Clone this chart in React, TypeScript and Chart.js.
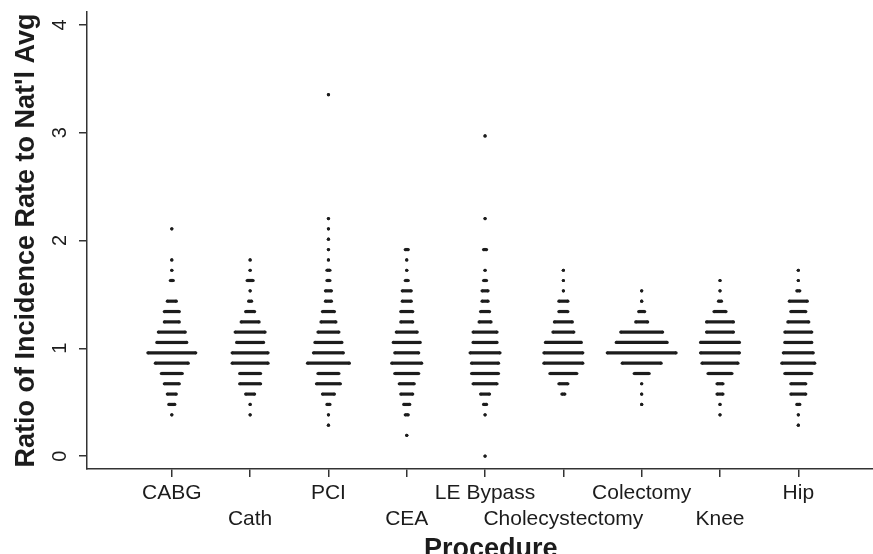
import React, { useEffect, useRef } from 'react';
import { Chart, registerables } from 'chart.js';

Chart.register(...registerables);

const procedures = ['CABG', 'Cath', 'PCI', 'CEA', 'LE Bypass', 'Cholecystectomy', 'Colectomy', 'Knee', 'Hip'];

const yTickValues = [0, 1, 2, 3, 4];

// Bin centres of the dot plot (ratio to national average), bins 0..35
const binValues = [
  0.0, 0.096, 0.192, 0.287, 0.383, 0.479, 0.575, 0.671, 0.766, 0.862,
  0.958, 1.054, 1.15, 1.245, 1.341, 1.437, 1.533, 1.629, 1.724, 1.82,
  1.916, 2.012, 2.108, 2.203, 2.299, 2.395, 2.491, 2.587, 2.682, 2.778,
  2.874, 2.97, 3.066, 3.161, 3.257, 3.353,
];

// Number of dots per bin for each procedure (index = bin)
const cabgCounts = [0, 0, 0, 0, 1, 3, 4, 6, 8, 12, 17, 11, 10, 6, 6, 4, 0, 2, 1, 1, 0, 0, 1];
const cathCounts = [0, 0, 0, 0, 1, 1, 4, 8, 8, 13, 13, 10, 11, 7, 4, 2, 1, 3, 1, 1];
const pciCounts = [0, 0, 0, 1, 1, 2, 5, 9, 8, 15, 11, 10, 8, 6, 5, 3, 3, 2, 2, 1, 1, 1, 1, 1, 0, 0, 0, 0, 0, 0, 0, 0, 0, 0, 0, 1];
const ceaCounts = [0, 0, 1, 0, 2, 3, 5, 6, 9, 11, 9, 10, 8, 5, 5, 4, 4, 2, 1, 1, 2];
const leBypassCounts = [1, 0, 0, 0, 1, 2, 4, 9, 10, 10, 11, 9, 9, 5, 4, 3, 3, 2, 1, 0, 2, 0, 0, 1, 0, 0, 0, 0, 0, 0, 0, 1];
const cholecystectomyCounts = [0, 0, 0, 0, 0, 0, 2, 4, 10, 14, 14, 13, 8, 7, 4, 4, 1, 1, 1];
const colectomyCounts = [0, 0, 0, 0, 0, 1, 1, 1, 6, 14, 24, 18, 15, 5, 3, 1, 1];
const kneeCounts = [0, 0, 0, 0, 1, 1, 3, 3, 9, 13, 14, 14, 10, 10, 5, 2, 1, 1];
const hipCounts = [0, 0, 0, 1, 1, 2, 6, 6, 10, 12, 11, 10, 10, 8, 6, 7, 2, 1, 1];

const countsByProcedure = [
  cabgCounts, cathCounts, pciCounts, ceaCounts, leBypassCounts,
  cholecystectomyCounts, colectomyCounts, kneeCounts, hipCounts,
];

const DOT_STEP = 0.0382; // horizontal spacing of dots within a row (x units)
const INK = '#1c1c1c';
const AXIS = '#333333';
const FONT = "'Liberation Sans', Arial, Helvetica, sans-serif";

export default function App() {
  const canvasRef = useRef<HTMLCanvasElement | null>(null);

  useEffect(() => {
    if (!canvasRef.current) return;
    Chart.defaults.font.family = FONT;

    // one dataset per dot row: a stack of n dots drawn as a thick segment
    const datasets: any[] = [];
    countsByProcedure.forEach((counts, p) => {
      counts.forEach((n, k) => {
        if (n <= 0) return;
        const half = ((n - 1) / 2) * DOT_STEP;
        datasets.push({
          data: [
            { x: p + 1 - half, y: binValues[k] },
            { x: p + 1 + half, y: binValues[k] },
          ],
          showLine: true,
          borderColor: INK,
          borderWidth: 3.2,
          borderCapStyle: 'butt',
          pointRadius: 1.6,
          pointHoverRadius: 1.6,
          pointBackgroundColor: INK,
          pointBorderWidth: 0,
          clip: false,
        });
      });
    });

    const chart = new Chart(canvasRef.current, {
      type: 'scatter',
      data: { datasets },
      options: {
        animation: false,
        responsive: false,
        devicePixelRatio: 1,
        events: [],
        layout: { padding: { top: 12, left: 0, right: 0, bottom: 0 } },
        plugins: { legend: { display: false }, tooltip: { enabled: false } },
        scales: {
          x: {
            type: 'linear',
            min: -0.083,
            max: 10.227,
            afterBuildTicks: (s: any) => {
              s.ticks = procedures.map((_, i) => ({ value: i + 1 }));
            },
            afterFit: (s: any) => {
              s.height = 85;
              s.paddingLeft = 0;
              s.paddingRight = 0;
            },
            grid: { drawOnChartArea: false, drawTicks: true, tickLength: 8, color: AXIS, lineWidth: 1.5 },
            border: { display: true, color: AXIS, width: 1.5 },
            ticks: {
              autoSkip: false,
              minRotation: 0,
              maxRotation: 0,
              padding: 4,
              color: INK,
              font: { size: 21, lineHeight: 1.2 },
              callback: (v: any) => {
                const i = Math.round(Number(v)) - 1;
                return i % 2 === 0 ? procedures[i] : ['', procedures[i]];
              },
            },
            title: {
              display: true,
              text: 'Procedure',
              color: INK,
              font: { size: 27, weight: 'bold', lineHeight: 1 },
              padding: { top: 0, bottom: -9 },
            },
          },
          y: {
            type: 'linear',
            min: -0.12,
            max: 4.12,
            afterBuildTicks: (s: any) => {
              s.ticks = yTickValues.map((v) => ({ value: v }));
            },
            afterFit: (s: any) => {
              s.width = 87;
              s.paddingTop = 0;
              s.paddingBottom = 0;
            },
            grid: { drawOnChartArea: false, drawTicks: true, tickLength: 8, color: AXIS, lineWidth: 1.5 },
            border: { display: true, color: AXIS, width: 1.5 },
            ticks: {
              minRotation: 90,
              maxRotation: 90,
              crossAlign: 'center',
              padding: 13,
              color: INK,
              font: { size: 20 },
            },
            title: {
              display: true,
              text: "Ratio of Incidence Rate to Nat'l Avg",
              color: INK,
              font: { size: 27, weight: 'bold' },
              padding: { top: 10, bottom: 0 },
            },
          },
        },
      } as any,
    });

    return () => chart.destroy();
  }, []);

  return (
    <div style={{ position: 'absolute', left: 0, top: 0, width: 873, height: 554, overflow: 'hidden', background: '#fff' }}>
      <canvas ref={canvasRef} width={896} height={554} style={{ display: 'block', width: 896, height: 554 }} />
    </div>
  );
}
